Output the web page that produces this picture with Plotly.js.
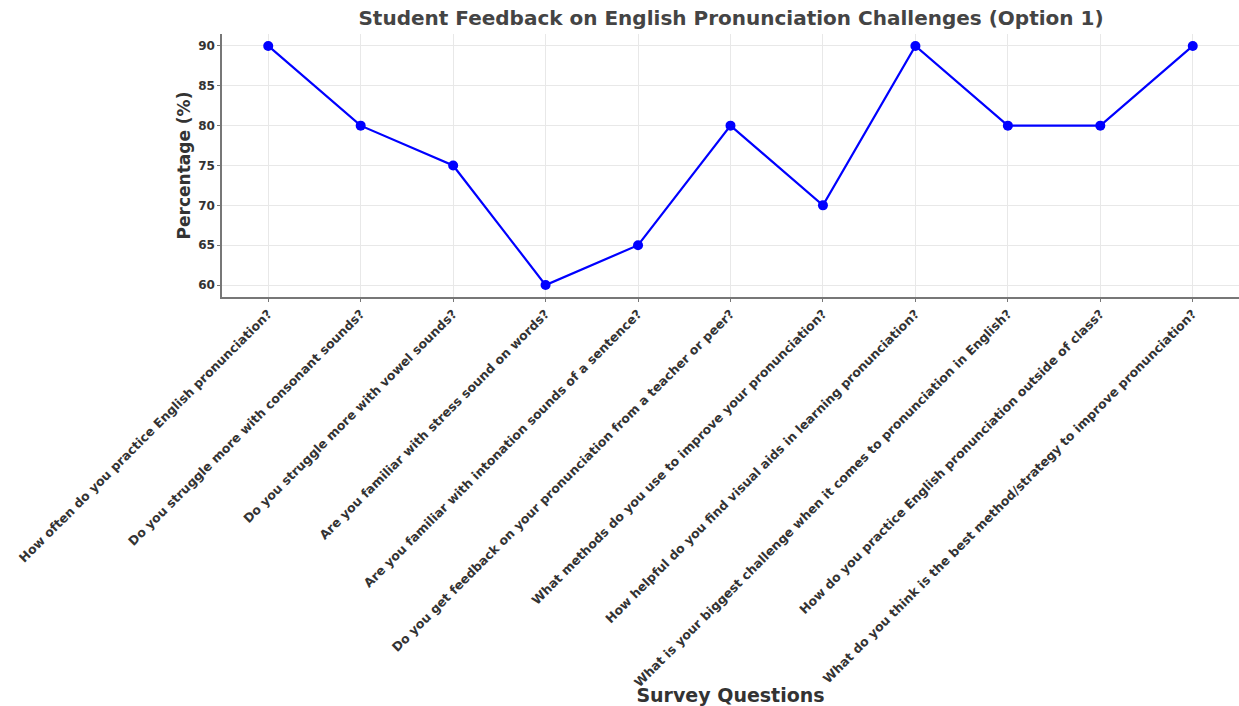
<!DOCTYPE html>
<html>
<head>
<meta charset="utf-8">
<script src="https://cdn.plot.ly/plotly-3.0.1.min.js"></script>
<style>html,body{margin:0;padding:0;background:#fff;}#chart{width:1239px;height:706px;}</style>
</head>
<body>
<div id="chart"></div>
<script>
const questions = [
  "How often do you practice English pronunciation?",
  "Do you struggle more with consonant sounds?",
  "Do you struggle more with vowel sounds?",
  "Are you familiar with stress sound on words?",
  "Are you familiar with intonation sounds of a sentence?",
  "Do you get feedback on your pronunciation from a teacher or peer?",
  "What methods do you use to improve your pronunciation?",
  "How helpful do you find visual aids in learning pronunciation?",
  "What is your biggest challenge when it comes to pronunciation in English?",
  "How do you practice English pronunciation outside of class?",
  "What do you think is the best method/strategy to improve pronunciation?"
];
const percentages = [90, 80, 75, 60, 65, 80, 70, 90, 80, 80, 90];
const yTicks = [60, 65, 70, 75, 80, 85, 90];

const font = "DejaVu Sans, sans-serif";
const trace = {
  x: questions,
  y: percentages,
  type: "scatter",
  mode: "lines+markers",
  line: {color: "#0000ff", width: 2.2},
  marker: {color: "#0000ff", size: 10},
  hoverinfo: "x+y"
};
const layout = {
  width: 1239, height: 706,
  margin: {l: 222, r: 0, t: 34, b: 409},
  paper_bgcolor: "#ffffff",
  plot_bgcolor: "#ffffff",
  showlegend: false,
  title: {
    text: "<b>Student Feedback on English Pronunciation Challenges (Option 1)</b>",
    font: {family: font, size: 20, color: "#444444"},
    x: 0.59, xanchor: "center", y: 0.974, yanchor: "middle"
  },
  xaxis: {
    type: "category",
    range: [-0.5, 10.5],
    tickangle: -45,
    tickfont: {family: font, size: 12.5, color: "#333333", weight: "bold"},
    showgrid: true, gridcolor: "#e8e8e8", gridwidth: 1,
    showline: true, linecolor: "#777777", linewidth: 1.5,
    ticks: "outside", ticklen: 3, tickcolor: "#777777",
    zeroline: false,
    automargin: false,
    title: {text: "<b>Survey Questions</b>", font: {family: font, size: 19, color: "#333333"}, standoff: 4}
  },
  yaxis: {
    range: [58.5, 91.5],
    tickvals: yTicks,
    ticktext: yTicks.map(String),
    tickfont: {family: font, size: 12, color: "#333333", weight: "bold"},
    showgrid: true, gridcolor: "#e8e8e8", gridwidth: 1,
    showline: true, linecolor: "#777777", linewidth: 1.5,
    ticks: "outside", ticklen: 3, tickcolor: "#777777",
    zeroline: false,
    automargin: false,
    title: {text: "<b>Percentage (%)</b>", font: {family: font, size: 17, color: "#333333"}, standoff: 3}
  }
};
Plotly.newPlot("chart", [trace], layout, {displayModeBar: false});
</script>
</body>
</html>
